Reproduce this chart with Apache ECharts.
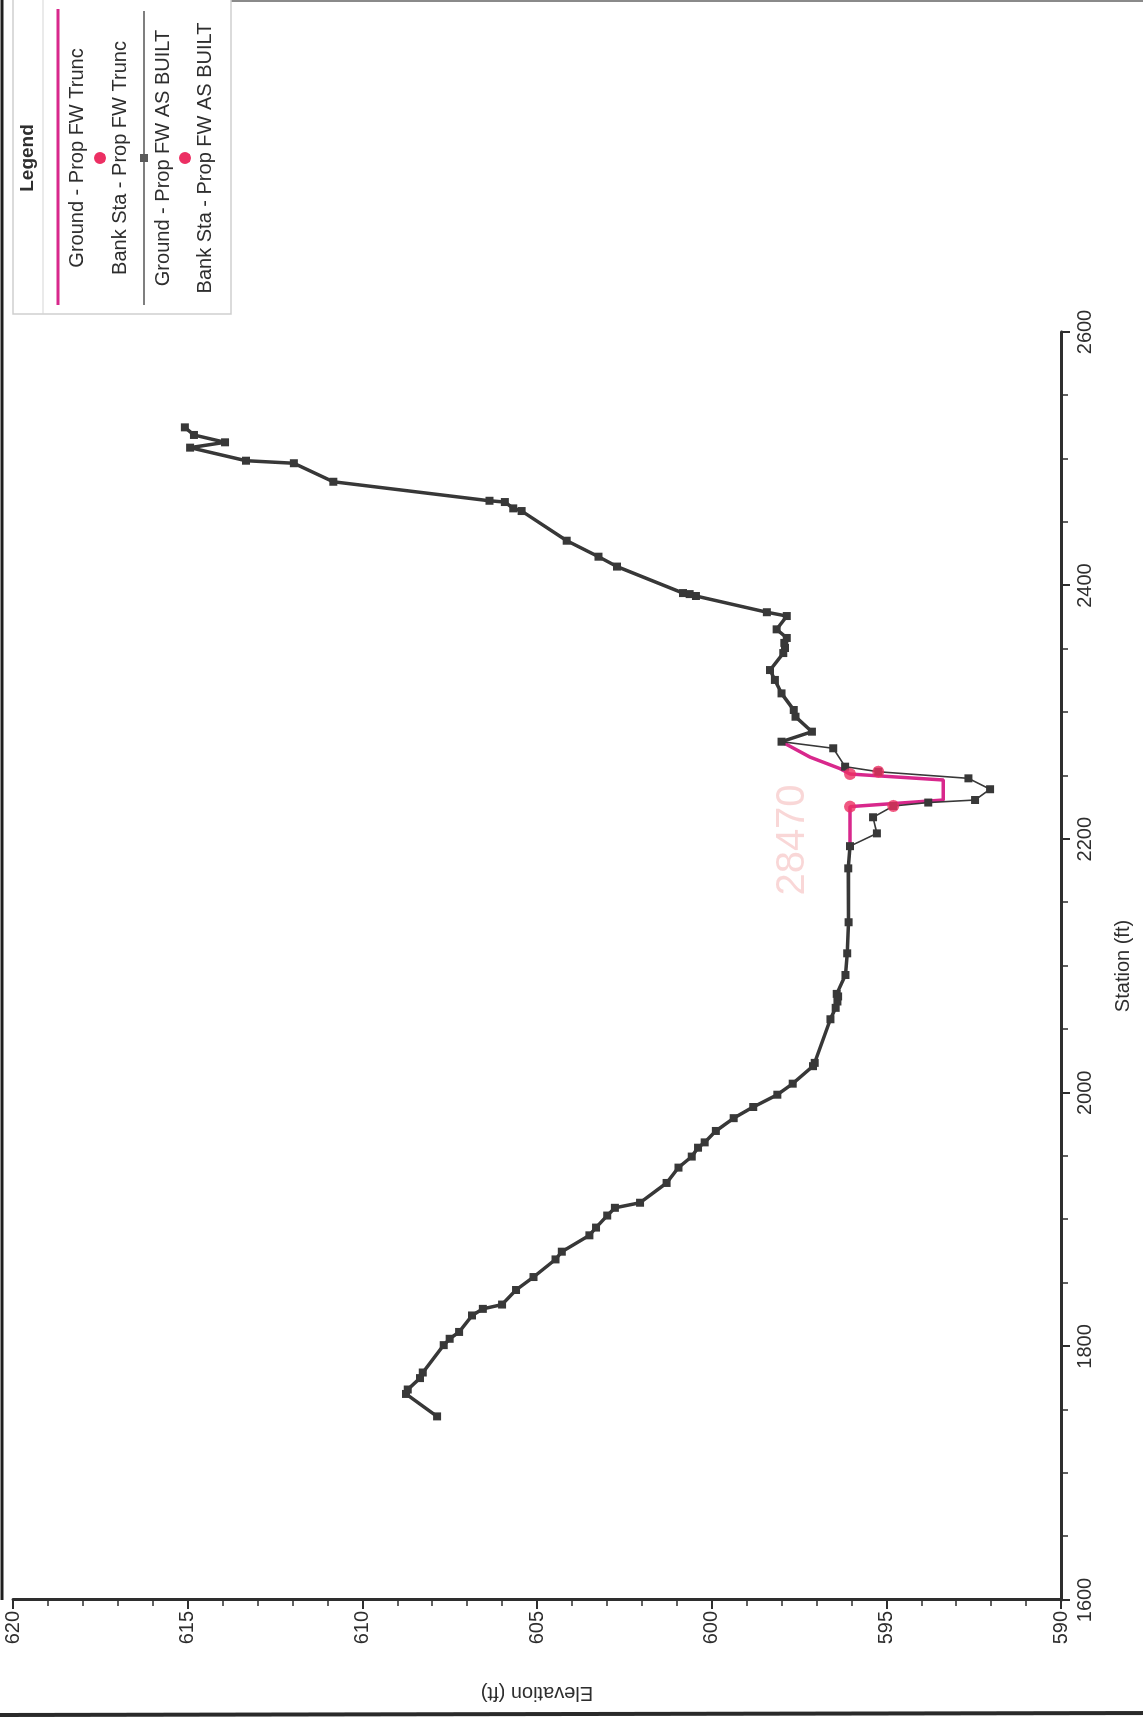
<!DOCTYPE html>
<html>
<head>
<meta charset="utf-8">
<script src="https://cdn.jsdelivr.net/npm/echarts@6/dist/echarts.min.js"></script>
<style>
  html, body { margin: 0; padding: 0; background: #fff; overflow: hidden; width: 1143px; height: 1721px; }
  /* The section sheet is laid out in landscape and turned a quarter turn onto the portrait page */
  #sheet {
    position: absolute; left: 0; top: 0;
    width: 1721px; height: 1143px;
    transform-origin: 0 0;
    transform: translate(0, 1721px) rotate(-90deg);
    background: #fff;
  }
</style>
</head>
<body>
<div id="sheet"></div>
<script>
// Ground points shared by both geometries [station ft, elevation ft]
const groundLeftOverbank = [
  [1744.8, 607.86], [1762.5, 608.75], [1766, 608.7], [1775, 608.35], [1779.4, 608.27],
  [1801, 607.67], [1806, 607.5], [1811.4, 607.23], [1824.4, 606.86], [1829.6, 606.55],
  [1833, 606.0], [1844.5, 605.6], [1854.7, 605.1], [1868.6, 604.47], [1874.7, 604.29],
  [1887.6, 603.5], [1893.7, 603.31], [1903.2, 602.99], [1909.3, 602.77], [1913.3, 602.05],
  [1928.9, 601.29], [1941, 600.95], [1949.7, 600.57], [1956.7, 600.39], [1960.9, 600.2],
  [1969.9, 599.88], [1980, 599.37], [1988.8, 598.81], [1998.5, 598.12], [2007.2, 597.68],
  [2021, 597.1], [2023.6, 597.05], [2058, 596.6], [2067, 596.45], [2072, 596.4],
  [2076, 596.38], [2078, 596.42], [2092.9, 596.17], [2110, 596.12], [2134.5, 596.08],
  [2177, 596.09], [2194.5, 596.04]
];
const groundRightOverbank = [
  [2276.9, 598.0], [2284.8, 597.13], [2296.6, 597.6], [2301.9, 597.65], [2315, 598.0],
  [2325.6, 598.19], [2333.4, 598.33], [2346.8, 597.95], [2350.8, 597.9], [2354.8, 597.92],
  [2358.7, 597.85], [2365.5, 598.14], [2376, 597.85], [2379, 598.42], [2391.8, 600.45],
  [2393.3, 600.63], [2394.1, 600.82], [2415, 602.71], [2422.8, 603.24], [2435.4, 604.15],
  [2458.8, 605.44], [2460.9, 605.68], [2465.9, 605.92], [2466.9, 606.36], [2481.9, 610.83],
  [2496.5, 611.96], [2498.5, 613.33], [2508.8, 614.93], [2513, 613.93], [2518.8, 614.82],
  [2524.8, 615.08]
];
// Channel points for each geometry
const asBuiltChannel = [
  [2204.6, 595.27], [2217.3, 595.38], [2226.2, 594.8], [2228.9, 593.8], [2230.9, 592.46],
  [2239.4, 592.03], [2248, 592.65], [2253.2, 595.23], [2257.2, 596.18], [2271.7, 596.52]
];
const truncChannel = [
  [2225.7, 596.04], [2230.9, 593.37], [2246.7, 593.37], [2251.4, 596.04],
  [2255.7, 596.33], [2264.7, 597.18]
];
// Bank stations
const truncBanks = [[2225.7, 596.04], [2251.4, 596.04]];
const asBuiltBanks = [[2226.2, 594.8], [2253.2, 595.23]];

// Axis ranges
const stationTicks = { min: 1600, max: 2600, step: 200 };
const elevationTicks = { min: 590, max: 620, step: 5 };

const seriesNames = [
  'Ground - Prop FW Trunc',
  'Bank Sta - Prop FW Trunc',
  'Ground - Prop FW AS BUILT',
  'Bank Sta - Prop FW AS BUILT'
];

const groundTrunc = groundLeftOverbank.concat(truncChannel, groundRightOverbank);
const groundAsBuilt = groundLeftOverbank.concat(asBuiltChannel, groundRightOverbank);

const FONT = "'Liberation Sans', Arial, Helvetica, sans-serif";
const INK = '#2e2e2e';
const LINE_DARK = '#383838';
const MAGENTA = '#d8288c';
const BANK_RED = '#ec2f63';

const chart = echarts.init(document.getElementById('sheet'), null, { renderer: 'canvas', width: 1721, height: 1143 });

// Legend panel (top-right of the sheet)
const LX = 1563;
const legendGraphics = [
  { type: 'rect', shape: { x: 1407, y: 13, width: 330, height: 218 },
    style: { fill: '#fff', stroke: '#cfcfcf', lineWidth: 1.5 }, z: 10 },
  { type: 'line', shape: { x1: 1407, y1: 43, x2: 1721, y2: 43 },
    style: { stroke: '#d5d5d5', lineWidth: 1.2 }, z: 11 },
  { type: 'text', x: LX, y: 28, style: { text: 'Legend', font: 'bold 19px ' + FONT, fill: INK, align: 'center', verticalAlign: 'middle' }, z: 11 },
  // row 1
  { type: 'line', shape: { x1: 1416, y1: 58, x2: 1712, y2: 58 }, style: { stroke: MAGENTA, lineWidth: 3 }, z: 11 },
  { type: 'text', x: LX, y: 77, style: { text: seriesNames[0], font: '20px ' + FONT, fill: INK, align: 'center', verticalAlign: 'middle' }, z: 11 },
  // row 2
  { type: 'circle', shape: { cx: LX, cy: 100, r: 6 }, style: { fill: BANK_RED }, z: 11 },
  { type: 'text', x: LX, y: 120, style: { text: seriesNames[1], font: '20px ' + FONT, fill: INK, align: 'center', verticalAlign: 'middle' }, z: 11 },
  // row 3
  { type: 'line', shape: { x1: 1416, y1: 144, x2: 1710, y2: 144 }, style: { stroke: '#555', lineWidth: 1.5 }, z: 11 },
  { type: 'rect', shape: { x: LX - 4, y: 140, width: 8, height: 8 }, style: { fill: '#5a5a5a' }, z: 11 },
  { type: 'text', x: LX, y: 163, style: { text: seriesNames[2], font: '20px ' + FONT, fill: INK, align: 'center', verticalAlign: 'middle' }, z: 11 },
  // row 4
  { type: 'circle', shape: { cx: LX, cy: 185, r: 6 }, style: { fill: BANK_RED }, z: 11 },
  { type: 'text', x: LX, y: 205, style: { text: seriesNames[3], font: '20px ' + FONT, fill: INK, align: 'center', verticalAlign: 'middle' }, z: 11 }
];

// Sheet edges and the pencilled cross-section number
const sheetGraphics = [
  { type: 'line', shape: { x1: 121, y1: 2, x2: 1721, y2: 2 }, style: { stroke: '#1e1e1e', lineWidth: 3 }, z: 1 },
  { type: 'line', shape: { x1: 6, y1: 0, x2: 8, y2: 1143 }, style: { stroke: '#2a2a2a', lineWidth: 4 }, z: 1 },
  { type: 'line', shape: { x1: 1720, y1: 222, x2: 1720, y2: 1143 }, style: { stroke: '#8a8a8a', lineWidth: 2 }, z: 1 },
  { type: 'text', x: 881, y: 793, style: { text: '28470', font: '40px ' + FONT, fill: 'rgba(240,150,150,0.38)', align: 'center', verticalAlign: 'middle' }, z: 1 }
];

chart.setOption({
  animation: false,
  backgroundColor: '#fff',
  textStyle: { fontFamily: FONT },
  grid: { left: 121, right: 332, top: 13, bottom: 82, containLabel: false },
  xAxis: {
    type: 'value',
    min: stationTicks.min, max: stationTicks.max, interval: stationTicks.step,
    name: 'Station (ft)', nameLocation: 'middle', nameGap: 52,
    nameTextStyle: { fontSize: 20, color: INK, fontFamily: FONT },
    axisLine: { show: true, onZero: false, lineStyle: { color: INK, width: 3 } },
    axisTick: { show: true, inside: false, length: 9, lineStyle: { color: INK, width: 2 } },
    minorTick: { show: true, splitNumber: 4, length: 7, lineStyle: { color: INK, width: 1.5 } },
    axisLabel: { fontSize: 20, color: INK, margin: 14, fontFamily: FONT, formatter: v => String(v) },
    splitLine: { show: false }
  },
  yAxis: {
    type: 'value',
    min: elevationTicks.min, max: elevationTicks.max, interval: elevationTicks.step,
    name: 'Elevation (ft)', nameLocation: 'middle', nameGap: 83,
    nameTextStyle: { fontSize: 20, color: INK, fontFamily: FONT },
    axisLine: { show: true, onZero: false, lineStyle: { color: INK, width: 3 } },
    axisTick: { show: true, inside: false, length: 9, lineStyle: { color: INK, width: 2 } },
    minorTick: { show: true, splitNumber: 5, length: 6, lineStyle: { color: INK, width: 1.5 } },
    axisLabel: { fontSize: 20, color: INK, margin: 11, fontFamily: FONT, formatter: v => String(v) },
    splitLine: { show: false }
  },
  // The truncated ground reads magenta only where it leaves the as-built line
  visualMap: {
    type: 'piecewise', show: false, seriesIndex: 0, dimension: 0,
    pieces: [
      { lt: 2195.5, color: LINE_DARK },
      { gte: 2195.5, lte: 2276.3, color: MAGENTA },
      { gt: 2276.3, color: LINE_DARK }
    ]
  },
  series: [
    {
      name: seriesNames[0], type: 'line', data: groundTrunc,
      showSymbol: false, symbol: 'none', z: 2,
      lineStyle: { width: 3.5 }
    },
    {
      name: seriesNames[2], type: 'line', data: groundAsBuilt,
      symbol: 'rect', symbolSize: 8, showSymbol: true, z: 3,
      itemStyle: { color: LINE_DARK },
      lineStyle: { color: LINE_DARK, width: 1.6 }
    },
    {
      name: seriesNames[1], type: 'scatter', data: truncBanks,
      symbol: 'circle', symbolSize: 12, z: 4,
      itemStyle: { color: BANK_RED }
    },
    {
      name: seriesNames[3], type: 'scatter', data: asBuiltBanks,
      symbol: 'circle', symbolSize: 12, z: 4,
      itemStyle: { color: BANK_RED }
    }
  ],
  graphic: sheetGraphics.concat(legendGraphics)
});
</script>
</body>
</html>
